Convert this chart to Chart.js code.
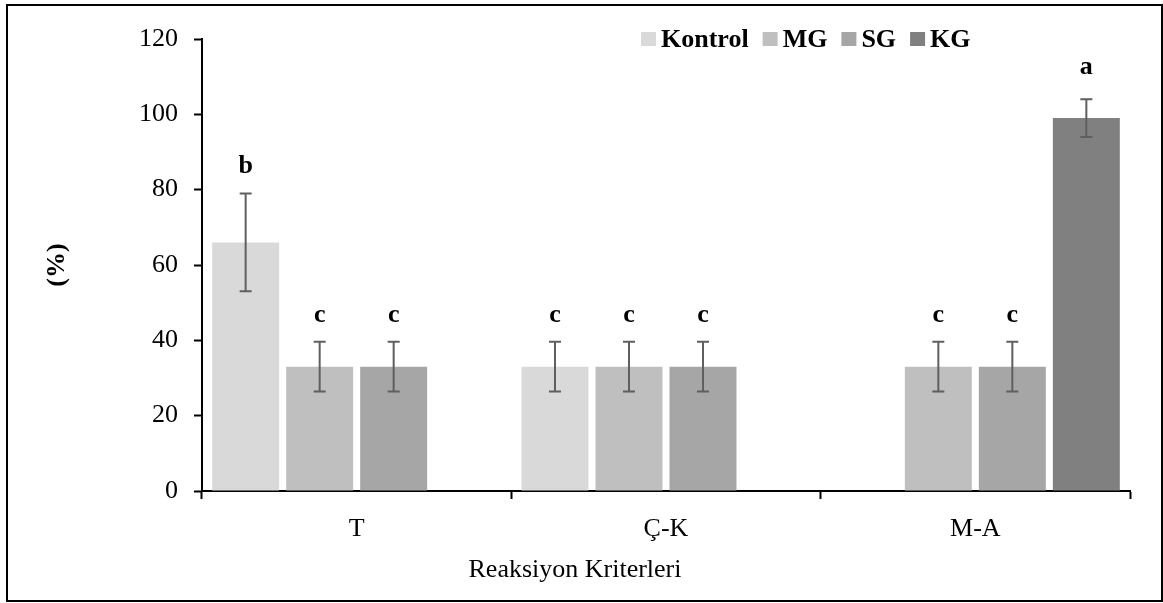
<!DOCTYPE html>
<html>
<head>
<meta charset="utf-8">
<script src="https://cdn.jsdelivr.net/npm/chart.js@4/dist/chart.umd.min.js"></script>
<style>
  html, body { margin: 0; padding: 0; background: #fff; }
  #wrap { width: 1163px; height: 603px; position: relative; }
</style>
</head>
<body>
<div id="wrap"><canvas id="chart" width="1163" height="603"></canvas></div>
<script>
const categories = ['T', 'Ç-K', 'M-A'];
const seriesNames = ['Kontrol', 'MG', 'SG', 'KG'];
const seriesColors = ['#d9d9d9', '#bfbfbf', '#a6a6a6', '#808080'];

// mean values per series (null = no bar)
const kontrol = [66, 33, null];
const mg = [33, 33, 33];
const sg = [33, 33, 33];
const kg = [null, null, 99];

// error bar half-widths
const kontrolErr = [13, 6.6, null];
const mgErr = [6.6, 6.6, 6.6];
const sgErr = [6.6, 6.6, 6.6];
const kgErr = [null, null, 5];

// significance letters
const kontrolLetters = ['b', 'c', ''];
const mgLetters = ['c', 'c', 'c'];
const sgLetters = ['c', 'c', 'c'];
const kgLetters = ['', '', 'a'];

const yTicks = [0, 20, 40, 60, 80, 100, 120];
const xTitle = 'Reaksiyon Kriterleri';

const values = [kontrol, mg, sg, kg];
const errors = [kontrolErr, mgErr, sgErr, kgErr];
const letters = [kontrolLetters, mgLetters, sgLetters, kgLetters];

const SERIF = '"Liberation Serif", "Times New Roman", serif';

const extras = {
  id: 'extras',
  afterDatasetsDraw(chart) {
    const { ctx, scales: { y } } = chart;
    ctx.save();
    chart.data.datasets.forEach((ds, i) => {
      const meta = chart.getDatasetMeta(i);
      meta.data.forEach((bar, j) => {
        const v = values[i][j];
        if (v == null) return;
        const e = errors[i][j];
        const yTop = y.getPixelForValue(v + e);
        const yBot = y.getPixelForValue(v - e);
        ctx.strokeStyle = '#5f5f5f';
        ctx.lineWidth = 2;
        ctx.beginPath();
        ctx.moveTo(bar.x, yTop); ctx.lineTo(bar.x, yBot);
        ctx.moveTo(bar.x - 6, yTop); ctx.lineTo(bar.x + 6, yTop);
        ctx.moveTo(bar.x - 6, yBot); ctx.lineTo(bar.x + 6, yBot);
        ctx.stroke();
        const t = letters[i][j];
        if (t) {
          ctx.fillStyle = '#000';
          ctx.font = 'bold 26px ' + SERIF;
          ctx.textAlign = 'center';
          ctx.textBaseline = 'alphabetic';
          ctx.fillText(t, bar.x, yTop - (t === 'a' ? 25 : 20));
        }
      });
    });
    ctx.restore();
  },
  afterDraw(chart) {
    const { ctx } = chart;
    ctx.save();
    // legend
    ctx.font = 'bold 26px ' + SERIF;
    ctx.textBaseline = 'middle';
    ctx.textAlign = 'left';
    let x = 641;
    const yc = 39;
    seriesNames.forEach((name, i) => {
      ctx.fillStyle = seriesColors[i];
      ctx.fillRect(x, yc - 7, 15, 14);
      ctx.fillStyle = '#000';
      ctx.fillText(name, x + 20, yc + 1);
      x += 20 + ctx.measureText(name).width + 14;
    });
    // x axis title (sits left of the plot centre in the original)
    ctx.font = '26px ' + SERIF;
    ctx.textAlign = 'center';
    ctx.fillText(xTitle, 575, 570);
    // outer frame
    ctx.strokeStyle = '#000';
    ctx.lineWidth = 2;
    ctx.strokeRect(7, 5, 1155, 596);
    ctx.restore();
  }
};

new Chart(document.getElementById('chart'), {
  type: 'bar',
  data: {
    labels: categories,
    datasets: seriesNames.map((name, i) => ({
      label: name,
      data: values[i],
      backgroundColor: seriesColors[i],
      borderWidth: 0,
      categoryPercentage: 0.957,
      barPercentage: 0.905
    }))
  },
  options: {
    responsive: false,
    animation: false,
    layout: { padding: { top: 39, right: 33, left: 0, bottom: 0 } },
    plugins: { legend: { display: false }, tooltip: { enabled: false } },
    scales: {
      x: {
        grid: { drawOnChartArea: false, tickLength: 8, tickColor: '#000', tickWidth: 2, offset: true },
        border: { color: '#000', width: 2 },
        ticks: { color: '#000', font: { family: SERIF, size: 26 }, padding: 15 },
        title: { display: false },
        afterFit(scale) { scale.height = 112; }
      },
      y: {
        min: 0, max: 120,
        afterBuildTicks(scale) { scale.ticks = yTicks.map(v => ({ value: v })); },
        grid: { drawOnChartArea: false, tickLength: 8, tickColor: '#000', tickWidth: 2 },
        border: { color: '#000', width: 2 },
        ticks: { color: '#000', font: { family: SERIF, size: 26 }, padding: 16 },
        title: { display: true, text: '(%)', color: '#000',
                 font: { family: SERIF, size: 26, weight: 'bold' }, padding: { top: 42, bottom: 0 } },
        afterFit(scale) { scale.width = 202; }
      }
    }
  },
  plugins: [extras]
});
</script>
</body>
</html>
